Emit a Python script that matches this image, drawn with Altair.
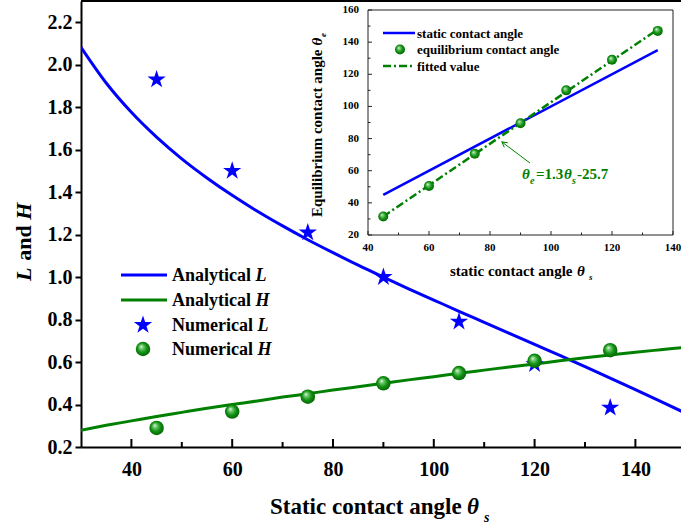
import altair as alt
import pandas as pd

# ---------------- data ----------------
# Analytical curves, sampled every 5 degrees
theta_curve = [30, 35, 40, 45, 50, 55, 60, 65, 70, 75, 80, 85, 90,
               95, 100, 105, 110, 115, 120, 125, 130, 135, 140, 145, 150]
L_curve = [2.082, 1.914, 1.776, 1.659, 1.557, 1.467, 1.385, 1.310, 1.241,
           1.176, 1.115, 1.056, 1.000, 0.945, 0.892, 0.839, 0.787, 0.735,
           0.683, 0.631, 0.578, 0.524, 0.470, 0.415, 0.359]
H_curve = [0.279, 0.302, 0.323, 0.344, 0.363, 0.382, 0.400, 0.417, 0.435,
           0.451, 0.468, 0.484, 0.500, 0.516, 0.531, 0.547, 0.562, 0.577,
           0.591, 0.606, 0.620, 0.633, 0.646, 0.658, 0.670]

# Numerical results
theta_num = [45, 60, 75, 90, 105, 120, 135]
L_num = [1.93, 1.50, 1.21, 1.00, 0.79, 0.59, 0.385]
H_num = [0.29, 0.367, 0.437, 0.50, 0.548, 0.606, 0.656]

# Inset: equilibrium vs static contact angle
theta_s = [45, 60, 75, 90, 105, 120, 135]
theta_e = [31.5, 50.5, 70.5, 89.5, 110, 129, 147]
static_x = [45, 135]
static_y = [45, 135]

# Tick values
main_x_ticks = [40, 60, 80, 100, 120, 140]
main_x_minor = [50, 70, 90, 110, 130]
main_y_ticks = [0.2, 0.4, 0.6, 0.8, 1.0, 1.2, 1.4, 1.6, 1.8, 2.0, 2.2]
inset_x_ticks = [40, 60, 80, 100, 120, 140]
inset_x_minor = [50, 70, 90, 110, 130]
inset_y_ticks = [20, 40, 60, 80, 100, 120, 140, 160]
inset_y_minor = [30, 50, 70, 90, 110, 130, 150]

# Annotation arrow (tail -> tip) in inset coordinates
arrow_x = [93.1, 83.9]
arrow_y = [64.8, 77.9]

# ---------------- styling ----------------
FONT = "Liberation Serif"
BLUE = "#0000FF"
GREEN = "#008000"
W, H = 600, 446

# five-pointed star symbol in the unit box
STAR = ("M0,-1L0.2245,-0.309L0.951,-0.309L0.363,0.118L0.588,0.809L0,0.382"
        "L-0.588,0.809L-0.363,0.118L-0.951,-0.309L-0.2245,-0.309Z")
ARROW_HEAD = "M-0.55,1L0,0L0.55,1"

ball_fill = {
    "gradient": "radial",
    "x1": 0.36, "y1": 0.32, "r1": 0.0,
    "x2": 0.5, "y2": 0.5, "r2": 0.58,
    "stops": [
        {"offset": 0.0, "color": "#f4fff4"},
        {"offset": 0.2, "color": "#7ccf7c"},
        {"offset": 0.55, "color": "#149414"},
        {"offset": 1.0, "color": "#005800"},
    ],
}

dummy = pd.DataFrame({"k": [0]})


def label(text, x, y, size, color="black", italic=False, angle=0, align="left",
          baseline="alphabetic"):
    kw = dict(text=text, font=FONT, fontSize=size, fontWeight="bold",
              fontStyle="italic" if italic else "normal", color=color,
              align=align, baseline=baseline)
    if angle:
        kw["angle"] = angle
    return alt.Chart(dummy).mark_text(**kw).encode(x=alt.value(x), y=alt.value(y))


# ---------------- main plot ----------------
def mx():
    return alt.Scale(domain=[30, 149.05], nice=False, zero=False)


def my():
    return alt.Scale(domain=[0.2, 2.3], nice=False, zero=False)


x_axis = alt.Axis(orient="bottom", values=main_x_ticks, ticks=False, tickSize=0,
                  domainWidth=2, domainColor="black", labelFont=FONT,
                  labelFontSize=20, labelFontWeight="bold", labelColor="black",
                  labelPadding=28, labelBaseline="alphabetic", grid=False,
                  title=None, format="d")
y_axis = alt.Axis(orient="left", values=main_y_ticks, tickSize=6, tickWidth=2,
                  tickColor="black", domainWidth=2, domainColor="black",
                  labelFont=FONT, labelFontSize=20, labelFontWeight="bold",
                  labelColor="black", labelPadding=3, grid=False, title=None,
                  format=".1f")

curves = pd.DataFrame({"theta": theta_curve, "L": L_curve, "H": H_curve})
numeric = pd.DataFrame({"theta": theta_num, "L": L_num, "H": H_num})

line_L = alt.Chart(curves).mark_line(color=BLUE, strokeWidth=3, clip=True,
                                     interpolate="monotone").encode(
    x=alt.X("theta:Q", scale=mx(), axis=x_axis),
    y=alt.Y("L:Q", scale=my(), axis=y_axis))
line_H = alt.Chart(curves).mark_line(color=GREEN, strokeWidth=3, clip=True,
                                     interpolate="monotone").encode(
    x=alt.X("theta:Q", scale=mx(), axis=None), y=alt.Y("H:Q", scale=my(), axis=None))
stars = alt.Chart(numeric).mark_point(shape=STAR, filled=True, color=BLUE,
                                      size=370, opacity=1).encode(
    x=alt.X("theta:Q", scale=mx(), axis=None), y=alt.Y("L:Q", scale=my(), axis=None))
balls = alt.Chart(numeric).mark_circle(fill=ball_fill, size=210, opacity=1).encode(
    x=alt.X("theta:Q", scale=mx(), axis=None), y=alt.Y("H:Q", scale=my(), axis=None))

xt_major = alt.Chart(pd.DataFrame({"t": main_x_ticks})).mark_rule(
    color="black", strokeWidth=2).encode(
    x=alt.X("t:Q", scale=mx(), axis=None), y=alt.value(H), y2=alt.value(H - 8))
xt_minor = alt.Chart(pd.DataFrame({"t": main_x_minor})).mark_rule(
    color="black", strokeWidth=2).encode(
    x=alt.X("t:Q", scale=mx(), axis=None), y=alt.value(H), y2=alt.value(H - 5))
top_border = alt.Chart(dummy).mark_rule(color="black", strokeWidth=2).encode(
    x=alt.value(0), x2=alt.value(W), y=alt.value(0))

# axis titles
x_title = [
    label("Static contact angle", 189, 513, 23),
    label("θ", 386, 513, 23, italic=True),
    label("s", 403, 521, 14, italic=True),
]
y_title = [
    label("L", -50, 280, 22, italic=True, angle=270),
    label("and", -50, 259.8, 22, angle=270),
    label("H", -50, 218.8, 22, italic=True, angle=270),
]

# legend
legend_main = [
    alt.Chart(dummy).mark_rule(color=BLUE, strokeWidth=3).encode(
        x=alt.value(40), x2=alt.value(86), y=alt.value(274)),
    alt.Chart(dummy).mark_rule(color=GREEN, strokeWidth=3).encode(
        x=alt.value(40), x2=alt.value(86), y=alt.value(299)),
    alt.Chart(dummy).mark_point(shape=STAR, filled=True, color=BLUE, size=370,
                                opacity=1).encode(
        x=alt.value(62), y=alt.value(324)),
    alt.Chart(dummy).mark_circle(fill=ball_fill, size=210, opacity=1).encode(
        x=alt.value(62), y=alt.value(348)),
    label("Analytical", 91, 280, 18), label("L", 174.5, 280, 18, italic=True),
    label("Analytical", 91, 305, 18), label("H", 174.5, 305, 18, italic=True),
    label("Numerical", 91, 330, 18), label("L", 176.5, 330, 18, italic=True),
    label("Numerical", 91, 354, 18), label("H", 176.5, 354, 18, italic=True),
]

main_layers = [line_L, line_H, stars, balls, xt_major, xt_minor, top_border,
               *x_title, *y_title, *legend_main]

# ---------------- inset ----------------
IX0, IX1, IY0, IY1 = 287, 592, 9, 234


def ix():
    return alt.Scale(domain=[40, 140], range=[IX0, IX1], nice=False, zero=False)


def iy():
    return alt.Scale(domain=[20, 160], range=[IY1, IY0], nice=False, zero=False)


frame = alt.Chart(dummy).mark_rect(fill="white", stroke="#222222",
                                   strokeWidth=1).encode(
    x=alt.value(IX0), x2=alt.value(IX1), y=alt.value(IY0), y2=alt.value(IY1))

ixt = alt.Chart(pd.DataFrame({"t": inset_x_ticks})).mark_rule(
    color="#222222", strokeWidth=1).encode(
    x=alt.X("t:Q", scale=ix(), axis=None), y=alt.value(IY1), y2=alt.value(IY1 - 4))
ixm = alt.Chart(pd.DataFrame({"t": inset_x_minor})).mark_rule(
    color="#222222", strokeWidth=1).encode(
    x=alt.X("t:Q", scale=ix(), axis=None), y=alt.value(IY1), y2=alt.value(IY1 - 2.5))
iyt = alt.Chart(pd.DataFrame({"t": inset_y_ticks})).mark_rule(
    color="#222222", strokeWidth=1).encode(
    y=alt.Y("t:Q", scale=iy(), axis=None), x=alt.value(IX0), x2=alt.value(IX0 + 4))
iym = alt.Chart(pd.DataFrame({"t": inset_y_minor})).mark_rule(
    color="#222222", strokeWidth=1).encode(
    y=alt.Y("t:Q", scale=iy(), axis=None), x=alt.value(IX0), x2=alt.value(IX0 + 2.5))

ixl = alt.Chart(pd.DataFrame({"t": inset_x_ticks})).mark_text(
    font=FONT, fontSize=11, fontWeight="bold", color="black", align="center",
    baseline="alphabetic").encode(
    x=alt.X("t:Q", scale=ix(), axis=None), y=alt.value(250),
    text=alt.Text("t:Q", format="d"))
iyl = alt.Chart(pd.DataFrame({"t": inset_y_ticks})).mark_text(
    font=FONT, fontSize=11, fontWeight="bold", color="black", align="right",
    baseline="middle").encode(
    y=alt.Y("t:Q", scale=iy(), axis=None), x=alt.value(278),
    text=alt.Text("t:Q", format="d"))

eq_df = pd.DataFrame({"ts": theta_s, "te": theta_e})
static_df = pd.DataFrame({"ts": static_x, "te": static_y})

static_line = alt.Chart(static_df).mark_line(color=BLUE, strokeWidth=2.5).encode(
    x=alt.X("ts:Q", scale=ix(), axis=None), y=alt.Y("te:Q", scale=iy(), axis=None))
fit_line = alt.Chart(eq_df).transform_regression(
    "ts", "te", method="linear", extent=[45, 135]).mark_line(
    color=GREEN, strokeWidth=2.5, strokeDash=[8, 3, 2, 3]).encode(
    x=alt.X("ts:Q", scale=ix(), axis=None), y=alt.Y("te:Q", scale=iy(), axis=None))
eq_points = alt.Chart(eq_df).mark_circle(fill=ball_fill, size=100, opacity=1).encode(
    x=alt.X("ts:Q", scale=ix(), axis=None), y=alt.Y("te:Q", scale=iy(), axis=None))

arrow_df = pd.DataFrame({"ax": arrow_x, "ay": arrow_y})
arrow_line = alt.Chart(arrow_df).mark_line(color=GREEN, strokeWidth=1).encode(
    x=alt.X("ax:Q", scale=ix(), axis=None), y=alt.Y("ay:Q", scale=iy(), axis=None))
arrow_head = alt.Chart(arrow_df.iloc[[1]]).mark_point(
    shape=ARROW_HEAD, filled=False, color=GREEN, strokeWidth=1,
    size=110, angle=307, opacity=1).encode(
    x=alt.X("ax:Q", scale=ix(), axis=None), y=alt.Y("ay:Q", scale=iy(), axis=None))

equation = [
    label("θ", 441, 178, 15, color=GREEN, italic=True),
    label("e", 449, 183, 10, color=GREEN, italic=True),
    label("=1.3", 455, 178, 15, color=GREEN),
    label("θ", 483, 178, 15, color=GREEN, italic=True),
    label("s", 491, 183, 10, color=GREEN, italic=True),
    label("-25.7", 496, 178, 15, color=GREEN),
]

inset_legend = [
    alt.Chart(dummy).mark_rule(color=BLUE, strokeWidth=2.5).encode(
        x=alt.value(302), x2=alt.value(334), y=alt.value(32)),
    alt.Chart(dummy).mark_circle(fill=ball_fill, size=100, opacity=1).encode(
        x=alt.value(319), y=alt.value(48.5)),
    alt.Chart(dummy).mark_rule(color=GREEN, strokeWidth=2.5,
                               strokeDash=[8, 3, 2, 3]).encode(
        x=alt.value(302), x2=alt.value(334), y=alt.value(65)),
    label("static contact angle", 336, 36.5, 13),
    label("equilibrium contact angle", 336, 53, 13),
    label("fitted value", 336, 69.5, 13),
]

inset_titles = [
    label("static contact angle", 369, 275, 15),
    label("θ", 496, 275, 15, italic=True),
    label("s", 508, 279, 9, italic=True),
    label("Equilibrium contact angle", 241, 216, 15, angle=270),
    label("θ", 241, 44.5, 15, italic=True, angle=270),
    label("e", 245, 36, 9, italic=True, angle=270),
]

inset_layers = [frame, ixt, ixm, iyt, iym, ixl, iyl, static_line, fit_line,
                eq_points, arrow_line, arrow_head, *equation, *inset_legend,
                *inset_titles]

chart = alt.layer(*main_layers, *inset_layers).resolve_scale(
    x="independent", y="independent"
).properties(
    width=W, height=H,
    autosize=alt.AutoSizeParams(type="none"),
    padding={"left": 81, "top": 1, "right": 0, "bottom": 81},
    background="white",
).configure_view(stroke=None)

chart.save("out.html", embed_options={"renderer": "svg", "actions": False})
